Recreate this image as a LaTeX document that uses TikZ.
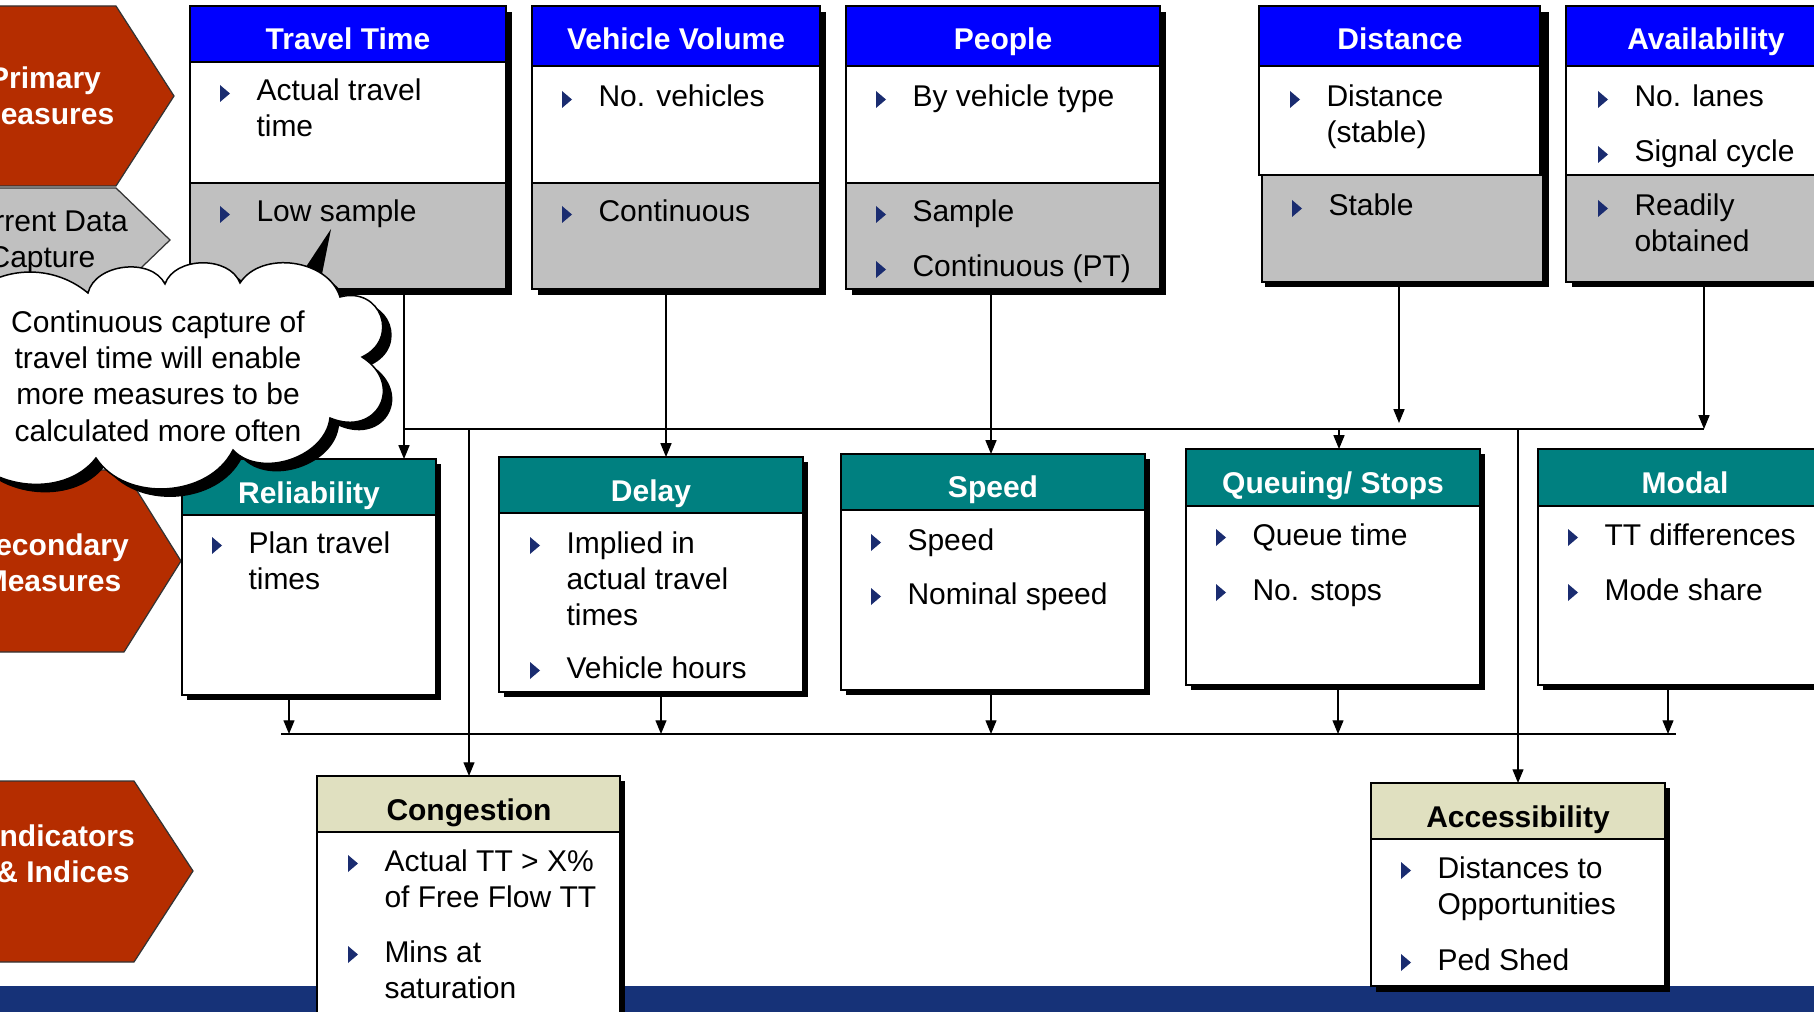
\documentclass[tikz,border=0pt]{standalone}
\usepackage{fontspec}
\setmainfont{Liberation Sans}
\usetikzlibrary{arrows.meta,fit}

\definecolor{primblue}{HTML}{0000FF}
\definecolor{secteal}{HTML}{008080}
\definecolor{indkhaki}{HTML}{E0E0C0}
\definecolor{datagray}{HTML}{C0C0C0}
\definecolor{measred}{HTML}{B52D00}
\definecolor{bulletblue}{HTML}{1A2C70}
\definecolor{bandblue}{HTML}{163278}

\tikzset{
  panel/.style={draw=black, line width=0.6pt},
  dropblk/.style={fill=black},
  area/.style={inner sep=0pt, outer sep=0pt},
  ttl/.style={anchor=base, inner sep=0pt, font=\fontsize{12}{14.4}\selectfont\bfseries},
  itm/.style={anchor=base west, inner sep=0pt, align=left, font=\fontsize{12}{14.4}\selectfont},
  hexlbl/.style={anchor=base, inner sep=0pt, align=center, text=white, font=\fontsize{12}{14.4}\selectfont\bfseries},
  hexshape/.style={draw=black!80, line width=0.5pt},
  wire/.style={line width=0.5pt},
  link/.style={line width=0.5pt, -{Triangle[length=5.5pt,width=4.4pt]}},
}

% bullet triangle and its text; [n] = number of lines, y = first baseline
\newcommand{\bitem}[5][1]{%
  \fill[bulletblue] (#2,#3-16) -- (#2+10,#3-7.5) -- (#2,#3+1) -- cycle;
  \node[itm] (#4) at (#2+36,#3+36*#1-36) {#5};}

\begin{document}
\begin{tikzpicture}[x=0.4pt, y=-0.4pt]
  \useasboundingbox (0,0) rectangle (1814,1012);
  \clip (0,0) rectangle (1814,1012);
  \fill[white] (0,0) rectangle (1814,1012);
  \fill[bandblue] (0,986) rectangle (1814,1012);

  % row labels (base = last line)
  \fill[measred, hexshape] (-100,6) -- (116,6) -- (174,96) -- (116,186) -- (-100,186) -- cycle;
  \node[hexlbl] (prim) at (45,125) {Primary\\Measures};
  \fill[datagray, hexshape] (-100,188) -- (116,188) -- (170,240) -- (116,292) -- (-100,292) -- cycle;
  \node[hexlbl, text=black, font=\fontsize{12}{14.4}\selectfont] (capt) at (42,268) {Current Data\\Capture};
  \fill[measred, hexshape] (-100,470) -- (124,470) -- (181,561) -- (124,652) -- (-100,652) -- cycle;
  \node[hexlbl] (secd) at (52,591) {Secondary\\Measures};
  \fill[measred, hexshape] (-100,781) -- (134,781) -- (193,871) -- (134,962) -- (-100,962) -- cycle;
  \node[hexlbl] (indc) at (63,882) {Indicators\\\& Indices};

  % Travel Time
  \fill[dropblk] (196,12) rectangle (512,295);
  \draw[panel, fill=primblue] (190,6) rectangle (506,62);
  \draw[panel, fill=white] (190,62) rectangle (506,183);
  \draw[panel, fill=datagray] (190,183) rectangle (506,289);
  \node[area, fit={(190,6) (506,289)}] (tt) {};
  \node[ttl, text=white] (tt-t) at (348,50) {Travel Time};
  \bitem[2]{220}{101}{tt-1}{Actual travel\\time}
  \bitem{220}{222}{tt-2}{Low sample}

  % Vehicle Volume
  \fill[dropblk] (538,12) rectangle (826,295);
  \draw[panel, fill=primblue] (532,6) rectangle (820,66);
  \draw[panel, fill=white] (532,66) rectangle (820,183);
  \draw[panel, fill=datagray] (532,183) rectangle (820,289);
  \node[area, fit={(532,6) (820,289)}] (vv) {};
  \node[ttl, text=white] (vv-t) at (676,50) {Vehicle Volume};
  \bitem{562}{107}{vv-1}{No. vehicles}
  \bitem{562}{222}{vv-2}{Continuous}

  % People
  \fill[dropblk] (852,12) rectangle (1166,295);
  \draw[panel, fill=primblue] (846,6) rectangle (1160,66);
  \draw[panel, fill=white] (846,66) rectangle (1160,183);
  \draw[panel, fill=datagray] (846,183) rectangle (1160,289);
  \node[area, fit={(846,6) (1160,289)}] (pp) {};
  \node[ttl, text=white] (pp-t) at (1003,50) {People};
  \bitem{876}{107}{pp-1}{By vehicle type}
  \bitem{876}{222}{pp-2}{Sample}
  \bitem{876}{277}{pp-3}{Continuous (PT)}

  % Distance
  \fill[dropblk] (1265,12) rectangle (1549,287);
  \draw[panel, fill=primblue] (1259,6) rectangle (1540,66);
  \draw[panel, fill=white] (1259,66) rectangle (1540,175);
  \draw[panel, fill=datagray] (1262,175) rectangle (1543,282);
  \node[area, fit={(1259,6) (1543,282)}] (ds) {};
  \node[ttl, text=white] (ds-t) at (1400,50) {Distance};
  \bitem[2]{1290}{107}{ds-1}{Distance\\(stable)}
  \bitem{1292}{216}{ds-2}{Stable}

  % Availability
  \fill[dropblk] (1572,12) rectangle (1852,287);
  \draw[panel, fill=primblue] (1566,6) rectangle (1846,66);
  \draw[panel, fill=white] (1566,66) rectangle (1846,175);
  \draw[panel, fill=datagray] (1566,175) rectangle (1846,282);
  \node[area, fit={(1566,6) (1846,282)}] (av) {};
  \node[ttl, text=white] (av-t) at (1706,50) {Availability};
  \bitem{1598}{107}{av-1}{No. lanes}
  \bitem{1598}{162}{av-2}{Signal cycle}
  \bitem[2]{1598}{216}{av-3}{Readily\\obtained}

  % Reliability
  \fill[dropblk] (187,464) rectangle (441,700);
  \draw[panel, fill=secteal] (182,459) rectangle (436,515);
  \draw[panel, fill=white] (182,515) rectangle (436,695);
  \node[area, fit={(182,459) (436,695)}] (rl) {};
  \node[ttl, text=white] (rl-t) at (309,503) {Reliability};
  \bitem[2]{212}{553}{rl-1}{Plan travel\\times}

  % Delay
  \fill[dropblk] (504,462) rectangle (808,697);
  \draw[panel, fill=secteal] (499,457) rectangle (803,513);
  \draw[panel, fill=white] (499,513) rectangle (803,692);
  \node[area, fit={(499,457) (803,692)}] (dl) {};
  \node[ttl, text=white] (dl-t) at (651,501) {Delay};
  \bitem[3]{530}{553}{dl-1}{Implied in\\actual travel\\times}
  \bitem{530}{678}{dl-2}{Vehicle hours}

  % Speed
  \fill[dropblk] (846,459) rectangle (1150,695);
  \draw[panel, fill=secteal] (841,454) rectangle (1145,510);
  \draw[panel, fill=white] (841,510) rectangle (1145,690);
  \node[area, fit={(841,454) (1145,690)}] (sp) {};
  \node[ttl, text=white] (sp-t) at (993,498) {Speed};
  \bitem{871}{550}{sp-1}{Speed}
  \bitem{871}{604}{sp-2}{Nominal speed}

  % Queuing/ Stops
  \fill[dropblk] (1191,454) rectangle (1485,690);
  \draw[panel, fill=secteal] (1186,449) rectangle (1480,506);
  \draw[panel, fill=white] (1186,506) rectangle (1480,685);
  \node[area, fit={(1186,449) (1480,685)}] (qs) {};
  \node[ttl, text=white] (qs-t) at (1333,493) {Queuing/ Stops};
  \bitem{1216}{545}{qs-1}{Queue time}
  \bitem{1216}{600}{qs-2}{No. stops}

  % Modal
  \fill[dropblk] (1543,454) rectangle (1837,690);
  \draw[panel, fill=secteal] (1538,449) rectangle (1832,506);
  \draw[panel, fill=white] (1538,506) rectangle (1832,685);
  \node[area, fit={(1538,449) (1832,685)}] (md) {};
  \node[ttl, text=white] (md-t) at (1685,493) {Modal};
  \bitem{1568}{545}{md-1}{TT differences}
  \bitem{1568}{600}{md-2}{Mode share}

  % Congestion
  \fill[dropblk] (322,781) rectangle (625,1035);
  \draw[panel, fill=indkhaki] (317,776) rectangle (620,832);
  \draw[panel, fill=white] (317,832) rectangle (620,1030);
  \node[area, fit={(317,776) (620,1012)}] (cg) {};
  \node[ttl] (cg-t) at (469,820) {Congestion};
  \bitem[2]{348}{871}{cg-1}{Actual TT > X\%\\of Free Flow TT}
  \bitem[2]{348}{962}{cg-2}{Mins at\\saturation}

  % Accessibility
  \fill[dropblk] (1376,788) rectangle (1670,992);
  \draw[panel, fill=indkhaki] (1371,783) rectangle (1665,839);
  \draw[panel, fill=white] (1371,839) rectangle (1665,986);
  \node[area, fit={(1371,783) (1665,986)}] (ac) {};
  \node[ttl] (ac-t) at (1518,827) {Accessibility};
  \bitem[2]{1401}{878}{ac-1}{Distances to\\Opportunities}
  \bitem{1401}{970}{ac-2}{Ped Shed}

  % buses
  \coordinate (busA) at (404,429);
  \coordinate (busB) at (1704,429);
  \coordinate (busC) at (281,734);
  \coordinate (busD) at (1676,734);
  \coordinate (j1) at (666,429);
  \coordinate (j2) at (991,429);
  \coordinate (j3) at (1399,423);
  \coordinate (j4) at (1339,429);
  \coordinate (j5) at (469,429);
  \coordinate (j6) at (1518,429);
  \coordinate (k1) at (289,734);
  \coordinate (k2) at (661,734);
  \coordinate (k3) at (991,734);
  \coordinate (k4) at (1338,734);
  \coordinate (k5) at (1668,734);
  \draw[wire] (busA) -- (busB);
  \draw[wire] (busC) -- (busD);

  \draw[link] (tt.south -| busA) -- (rl.north -| busA);
  \draw[link] (vv.south -| j1) -- (dl.north -| j1);
  \draw[link] (pp.south -| j2) -- (sp.north -| j2);
  \draw[link] (ds.south -| j3) -- (j3);
  \draw[link] (av.south -| busB) -- (busB);
  \draw[link] (j4) -- (qs.north -| j4);
  \draw[link] (j5) -- (cg.north -| j5);
  \draw[link] (j6) -- (ac.north -| j6);

  \draw[link] (rl.south -| k1) -- (k1);
  \draw[link] (dl.south -| k2) -- (k2);
  \draw[link] (sp.south -| k3) -- (k3);
  \draw[link] (qs.south -| k4) -- (k4);
  \draw[link] (md.south -| k5) -- (k5);

  % thought cloud, shadow first
  \fill[black] (296,282) -- (331,229) -- (320,284) -- cycle;
  \fill[black, shift={(9,8)}] (-40,305) to[bend left=45] (88,293) to[bend left=70] (165,284)
    to[bend left=70] (240,283) to[bend left=65] (340,297) to[bend left=85, looseness=1.7] (362,357)
    to[bend left=85, looseness=1.9] (330,418) to[bend left=65] (233,450) to[bend left=60] (96,458)
    to[bend left=60] (-40,440) -- cycle;
  \draw[fill=white, line width=0.6pt] (-40,305) to[bend left=45] (88,293) to[bend left=70] (165,284)
    to[bend left=70] (240,283) to[bend left=65] (340,297) to[bend left=85, looseness=1.7] (362,357)
    to[bend left=85, looseness=1.9] (330,418) to[bend left=65] (233,450) to[bend left=60] (96,458)
    to[bend left=60] (-40,440) -- cycle;
  \node[anchor=base, inner sep=0pt, align=center, font=\fontsize{12}{14.5}\selectfont] (note-t) at (158,441)
    {Continuous capture of\\travel time will enable\\more measures to be\\calculated more often};
\end{tikzpicture}
\end{document}
